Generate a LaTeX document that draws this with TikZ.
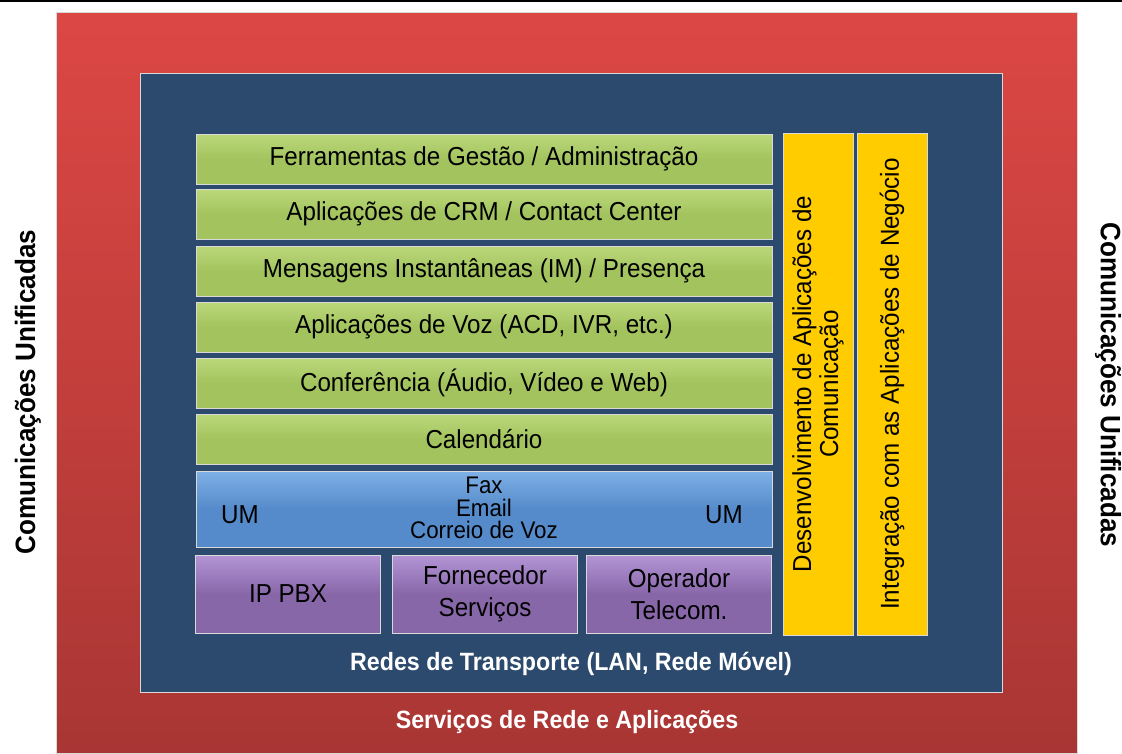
\documentclass[tikz,border=0pt]{standalone}
\usepackage{fontspec}
\setmainfont{Liberation Sans}[FakeStretch=0.93]
\usepackage{tikz}
\definecolor{redtop}{HTML}{DC4744}
\definecolor{redbot}{HTML}{A93634}
\definecolor{navy}{HTML}{2C4A6D}
\definecolor{greenbar}{HTML}{A3C35F}
\definecolor{greenlt}{HTML}{BCD97A}
\definecolor{bluebar}{HTML}{558BCB}
\definecolor{bluelt}{HTML}{7FB0E6}
\definecolor{purplebox}{HTML}{8867A9}
\definecolor{purplelt}{HTML}{B395D6}
\definecolor{yellowcol}{HTML}{FFCC00}
\tikzset{
  panel/.style={inner sep=0pt, draw=white!85!black, line width=0.8pt},
  outerbox/.style={panel, top color=redtop, bottom color=redbot, minimum width=1021pt, minimum height=741pt},
  netbox/.style={panel, fill=navy, minimum width=862pt, minimum height=619pt},
  appbar/.style={panel, top color=greenlt, bottom color=greenbar, middle color=greenbar, minimum width=576pt, minimum height=50pt, font=\fontsize{26}{28}\selectfont},
  umbar/.style={panel, top color=bluelt, bottom color=bluebar, middle color=bluebar, minimum width=576pt, minimum height=76pt},
  srcbox/.style={panel, top color=purplelt, bottom color=purplebox, middle color=purplebox, minimum width=185pt, minimum height=78pt, align=center, font=\fontsize{26}{32}\selectfont},
  devcol/.style={panel, fill=yellowcol, minimum width=70pt, minimum height=502pt},
  txt/.style={font=\fontsize{26}{28}\selectfont},
  vtxt/.style={align=center, rotate=90, font=\fontsize{26}{27}\selectfont},
  wlbl/.style={text=white, font=\bfseries\fontsize{25}{28}\selectfont},
  sidelbl/.style={font=\bfseries\fontsize{28}{30}\selectfont}
}
\begin{document}
\begin{tikzpicture}[x=1pt, y=-1pt]
  \useasboundingbox (0,0) rectangle (1122,753);
  \draw[line width=2pt] (0,1) -- (1122,1);

  % outer layers
  \node[outerbox] (servicos) at (566.5,382.5) {};
  \node[netbox] (redes) at (571,382.5) {};

  % application bars
  \node[appbar] (gestao) at (484,159) {Ferramentas de Gestão / Administração};
  \node[appbar] (crm) at (484,214) {Aplicações de CRM / Contact Center};
  \node[appbar] (im) at (484,271) {Mensagens Instantâneas (IM) / Presença};
  \node[appbar] (voz) at (484,327) {Aplicações de Voz (ACD, IVR, etc.)};
  \node[appbar] (conf) at (484,383) {Conferência (Áudio, Vídeo e Web)};
  \node[appbar] (cal) at (484,439) {Calendário};

  % unified messaging
  \node[umbar] (um) at (484,509) {};
  \node[align=center, inner sep=0pt, font=\fontsize{24}{22.5}\selectfont] (msg) at (484,508) {Fax\\Email\\Correio de Voz};
  \node[txt] (umleft) at (240,515) {UM};
  \node[txt] (umright) at (724,515) {UM};

  % sources
  \node[srcbox] (pbx) at (288,594) {IP PBX};
  \node[srcbox] (forn) at (485,594) {Fornecedor\\Serviços};
  \node[srcbox] (oper) at (679,594) {Operador\\Telecom.};

  % side columns
  \node[devcol] (dev) at (818,384) {};
  \node[vtxt] at (dev) {Desenvolvimento de Aplicações de\\Comunicação};
  \node[devcol] (integ) at (892,384) {};
  \node[vtxt] at (integ) {Integração com as Aplicações de Negócio};

  % layer titles
  \node[wlbl] (redeslbl) at (571,664) {Redes de Transporte (LAN, Rede Móvel)};
  \node[wlbl] (servlbl) at (567,722) {Serviços de Rede e Aplicações};
  \node[sidelbl, rotate=90] (uc1) at (28,392) {Comunicações Unificadas};
  \node[sidelbl, rotate=-90] (uc2) at (1108,385) {Comunicações Unificadas};
\end{tikzpicture}
\end{document}
